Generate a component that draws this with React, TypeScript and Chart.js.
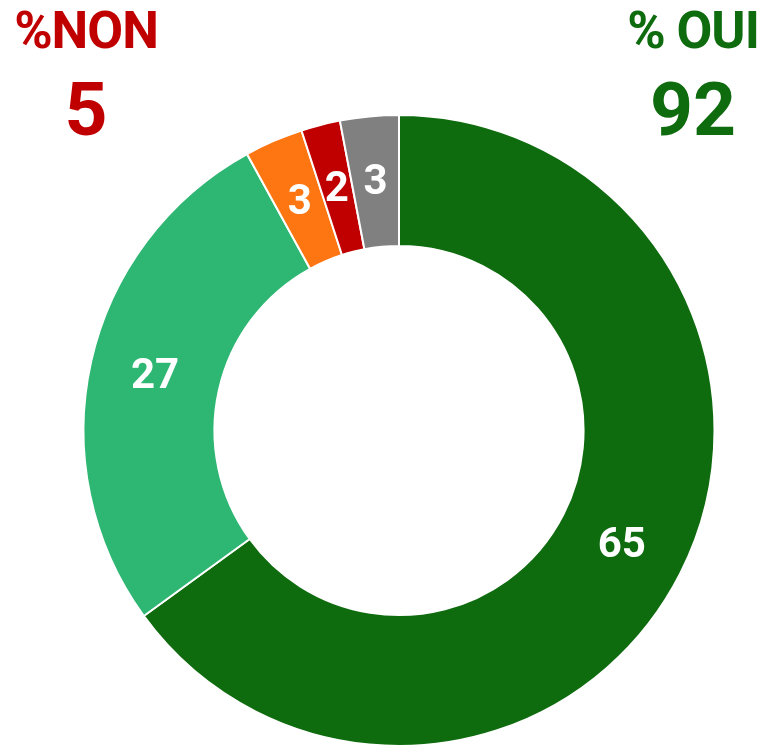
import React, { useEffect, useRef } from "react";
import { Chart, registerables } from "chart.js";

Chart.register(...registerables);

const categories = ["Oui, tout à fait", "Oui, plutôt", "Non, plutôt pas", "Non, pas du tout", "Ne se prononce pas"];
const values = [65, 27, 3, 2, 3];
const colors = ["#0e6b0e", "#2eb673", "#fd7612", "#c00000", "#808080"];
const nonLabel = "%NON";
const nonValue = "5";
const ouiLabel = "% OUI";
const ouiValue = "92";

const labelPlugin = {
  id: "sliceLabels",
  afterDatasetsDraw(chart: any) {
    const ctx = chart.ctx;
    const meta = chart.getDatasetMeta(0);
    ctx.save();
    ctx.fillStyle = "#ffffff";
    ctx.font = "bold 42px Roboto";
    ctx.textAlign = "center";
    ctx.textBaseline = "middle";
    meta.data.forEach((arc: any, i: number) => {
      const p = arc.tooltipPosition();
      ctx.fillText(String(values[i]), p.x, p.y + 2);
    });
    ctx.restore();
  },
};

export default function App() {
  const ref = useRef<HTMLCanvasElement>(null);
  useEffect(() => {
    if (!ref.current) return;
    const chart = new Chart(ref.current, {
      type: "doughnut",
      data: {
        labels: categories,
        datasets: [
          {
            data: values,
            backgroundColor: colors,
            borderColor: "#ffffff",
            borderWidth: 2,
            hoverOffset: 0,
          },
        ],
      },
      options: {
        animation: false,
        responsive: false,
        devicePixelRatio: 1,
        cutout: "58.5%",
        layout: { padding: { top: 114, bottom: -1, left: 82, right: 50 } },
        plugins: {
          legend: { display: false },
          tooltip: { enabled: false },
        },
      },
      plugins: [labelPlugin],
    });
    return () => chart.destroy();
  }, []);

  const titleBase: React.CSSProperties = {
    position: "absolute",
    fontFamily: "Roboto, sans-serif",
    fontWeight: 700,
    lineHeight: 1,
    textAlign: "center",
    whiteSpace: "nowrap",
    width: 200,
  };

  return (
    <div style={{ position: "absolute", left: 0, top: 0, width: 766, height: 747, overflow: "hidden", background: "#fff" }}>
      <canvas ref={ref} width={766} height={747} style={{ position: "absolute", left: 0, top: 0 }} />
      <div style={{ ...titleBase, left: 86 - 100, top: 5, fontSize: 52, color: "#c00000", letterSpacing: -1 }}>{nonLabel}</div>
      <div style={{ ...titleBase, left: 86 - 100, top: 72, fontSize: 75, color: "#c00000" }}>{nonValue}</div>
      <div style={{ ...titleBase, left: 693 - 100, top: 5, fontSize: 52, color: "#0e6b0e", letterSpacing: -1 }}>{ouiLabel}</div>
      <div style={{ ...titleBase, left: 693 - 100, top: 72, fontSize: 75, color: "#0e6b0e" }}>{ouiValue}</div>
    </div>
  );
}
